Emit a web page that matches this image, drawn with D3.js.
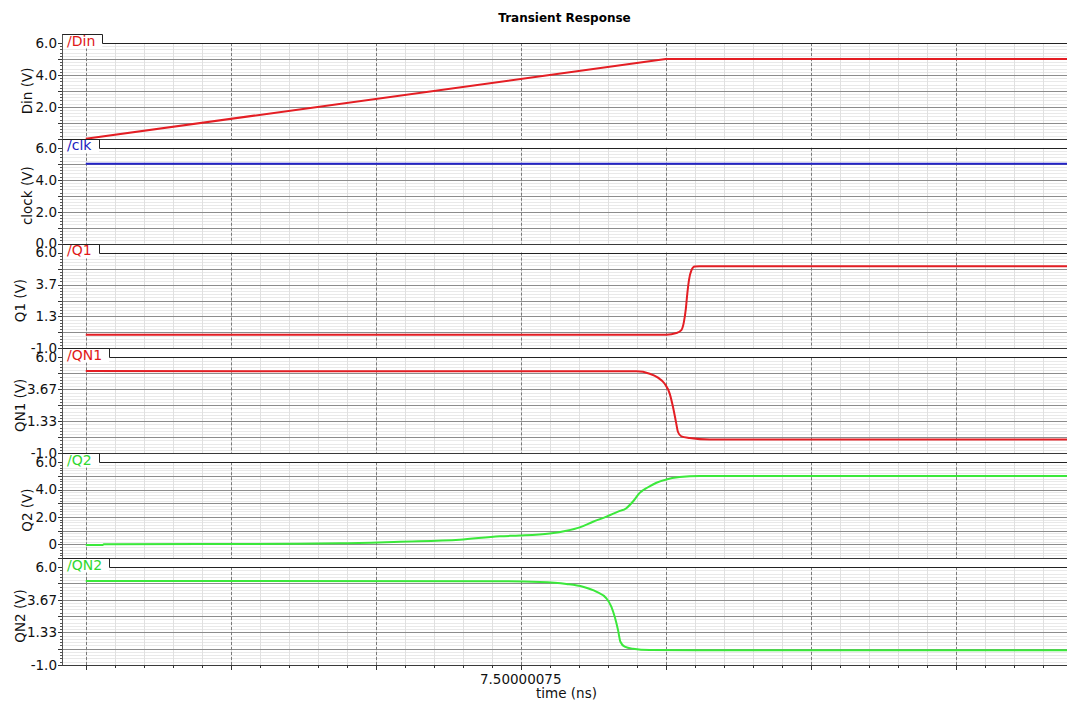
<!DOCTYPE html>
<html>
<head>
<meta charset="utf-8">
<script src="https://cdn.jsdelivr.net/npm/d3@7"></script>
<style>
  body { margin: 0; background: #fff; }
  svg { display: block; }
  text { font-family: "DejaVu Sans", Verdana, sans-serif; }
</style>
</head>
<body>
<svg id="chart" width="1067" height="704"></svg>
<script>
// ---- Signal data (time in ns, level in V) ----
const dinTime = [7.5, 7.500001, 7.500001692];
const dinVolt = [0.0, 5.0, 5.0];

const clkTime = [7.5, 7.500001692];
const clkVolt = [5.0, 5.0];

const q1Time = [7.5, 7.5000010012, 7.5000010184, 7.500001027, 7.500001031, 7.5000010345,
                7.5000010374, 7.5000010402, 7.5000010443, 7.50000105, 7.5000010586, 7.500001692];
const q1Volt = [0.0, 0.0, 0.12, 0.34, 0.85, 1.81, 3.06, 4.01, 4.70, 4.99, 5.0, 5.0];

const qn1Time = [7.5, 7.5000009495, 7.5000009724, 7.5000009867, 7.5000009983, 7.5000010069,
                 7.5000010126, 7.5000010172, 7.5000010212, 7.500001027, 7.5000010414,
                 7.5000010759, 7.500001692];
const qn1Volt = [5.0, 4.98, 4.81, 4.52, 4.08, 3.35, 2.37, 1.40, 0.55, 0.23, 0.11, 0.0, 0.0];

const q2Time = [7.5, 7.5000000293, 7.500000031, 7.500000369, 7.5000004379, 7.5000005414,
                7.5000006448, 7.5000007138, 7.5000007483, 7.5000008, 7.5000008288,
                7.5000008517, 7.5000008747, 7.5000008978, 7.5000009178, 7.5000009322,
                7.5000009436, 7.5000009552, 7.5000009695, 7.500000984, 7.5000010012,
                7.5000010241, 7.5000010586, 7.500001692];
const q2Volt = [-0.05, -0.05, 0.0, 0.04, 0.07, 0.19, 0.33, 0.59, 0.64, 0.79, 0.99, 1.24, 1.65,
                2.02, 2.39, 2.64, 3.13, 3.76, 4.17, 4.50, 4.74, 4.91, 5.0, 5.0];

const qn2Time = [7.5, 7.5000007138, 7.5000007828, 7.5000008288, 7.5000008572, 7.5000008803,
                 7.5000008978, 7.5000009064, 7.5000009121, 7.5000009178, 7.5000009219,
                 7.5000009293, 7.5000009436, 7.5000009724, 7.5000010586, 7.500001692];
const qn2Volt = [5.0, 4.98, 4.93, 4.79, 4.59, 4.24, 3.76, 3.16, 2.45, 1.50, 0.66, 0.31, 0.16,
                 0.07, 0.05, 0.05];

// ---- Panel definitions ----
const axisNames   = ["Din (V)", "clock (V)", "Q1 (V)", "QN1 (V)", "Q2 (V)", "QN2 (V)"];
const traceNames  = ["/Din", "/clk", "/Q1", "/QN1", "/Q2", "/QN2"];
const traceColors = ["#e41e24", "#2424c8", "#e41e24", "#e41e24", "#3be83b", "#3be83b"];
const labelColors = ["#e01818", "#2020c0", "#e01818", "#e01818", "#30d830", "#30d830"];
const yMin  = [0, 0, -1, -1, -1, -1];
const yMax  = [6, 6, 6, 6, 6, 6];
const yStep = [1, 1, 7 / 6, 7 / 6, 1, 7 / 6];
const yTickValues = [
  [6, 4, 2],
  [6, 4, 2, 0],
  [6, 11 / 3, 4 / 3, -1],
  [6, 11 / 3, 4 / 3, -1],
  [6, 4, 2, 0],
  [6, 11 / 3, 4 / 3, -1]
];
const yTickLabels = [
  ["6.0", "4.0", "2.0"],
  ["6.0", "4.0", "2.0", "0.0"],
  ["6.0", "3.7", "1.3", "-1.0"],
  ["6.0", "3.67", "1.33", "-1.0"],
  ["6.0", "4.0", "2.0", "0"],
  ["6.0", "3.67", "1.33", "-1.0"]
];
const seriesTime = [dinTime, clkTime, q1Time, qn1Time, q2Time, qn2Time];
const seriesVolt = [dinVolt, clkVolt, q1Volt, qn1Volt, q2Volt, qn2Volt];
const seriesSmooth = [false, false, true, true, true, true];

// ---- Time axis ----
const timeDomain = [7.499999959, 7.500001692];
const timeMajorStep = 0.25e-6;
const timeMinorStep = 0.05e-6;
const timeTickValues = [7.50000075];
const timeTickLabels = ["7.50000075"];

// ---- Layout ----
const W = 1067;
const left = 62, right = W;
const firstTab = 34, slot = 104.8, tabH = 9, lastBottom = 665;

const svg = d3.select("#chart");
const x = d3.scaleLinear().domain(timeDomain).range([left, right]);

svg.append("text")
  .attr("x", (left + right) / 2).attr("y", 22)
  .attr("text-anchor", "middle")
  .style("font-size", "12px").style("font-weight", "bold")
  .text("Transient Response");

const xMajor = d3.range(0, 40).map(i => 7.5 + i * timeMajorStep)
  .filter(t => t >= timeDomain[0] && t <= timeDomain[1]);
const xMinor = d3.range(-5, 40).map(i => 7.5 + i * timeMinorStep)
  .filter(t => t >= timeDomain[0] && t <= timeDomain[1]);

const defs = svg.append("defs");

axisNames.forEach((name, i) => {
  const tabTop = firstTab + i * slot;
  const top = tabTop + tabH;
  const bottom = i === axisNames.length - 1 ? lastBottom : firstTab + (i + 1) * slot;

  const y = d3.scaleLinear().domain([yMin[i], yMax[i]]).range([bottom, top]);

  // major and minor level values
  const nMaj = Math.round((yMax[i] - yMin[i]) / yStep[i]);
  const majors = d3.range(nMaj + 1).map(k => yMin[i] + k * yStep[i]);
  const minors = [];
  for (let k = 0; k < nMaj; k++) {
    for (let m = 1; m < 5; m++) minors.push(majors[k] + m * yStep[i] / 5);
  }

  const g = svg.append("g");

  // minor horizontal grid
  g.selectAll(".hmin").data(minors).join("line")
    .attr("x1", left).attr("x2", right)
    .attr("y1", d => Math.round(y(d)) + 0.5).attr("y2", d => Math.round(y(d)) + 0.5)
    .attr("stroke", "#e9e9e9").attr("stroke-width", 1);

  // minor vertical grid
  g.selectAll(".vmin").data(xMinor).join("line")
    .attr("x1", d => Math.round(x(d)) + 0.5).attr("x2", d => Math.round(x(d)) + 0.5)
    .attr("y1", top).attr("y2", bottom)
    .attr("stroke", "#e0e0e0").attr("stroke-width", 1);

  // major horizontal grid
  g.selectAll(".hmaj").data(majors.slice(1, -1)).join("line")
    .attr("x1", left).attr("x2", right)
    .attr("y1", d => Math.round(y(d)) + 0.5).attr("y2", d => Math.round(y(d)) + 0.5)
    .attr("stroke", "#8c8c8c").attr("stroke-width", 1);

  // major vertical grid (dashed)
  g.selectAll(".vmaj").data(xMajor).join("line")
    .attr("x1", d => Math.round(x(d)) + 0.5).attr("x2", d => Math.round(x(d)) + 0.5)
    .attr("y1", top).attr("y2", bottom)
    .attr("stroke", "#7a7a7a").attr("stroke-width", 1)
    .attr("stroke-dasharray", "3,2");

  // signal trace
  const clipId = "clip" + i;
  defs.append("clipPath").attr("id", clipId)
    .append("rect").attr("x", left).attr("y", top - 2)
    .attr("width", right - left).attr("height", bottom - top + 4);

  const pts = seriesTime[i].map((t, k) => [t, seriesVolt[i][k]]);
  const line = d3.line()
    .x(d => x(d[0])).y(d => y(d[1]))
    .curve(seriesSmooth[i] ? d3.curveMonotoneX : d3.curveLinear);
  g.append("path")
    .attr("d", line(pts))
    .attr("clip-path", `url(#${clipId})`)
    .attr("fill", "none")
    .attr("stroke", traceColors[i])
    .attr("stroke-width", 2)
    .attr("stroke-linejoin", "round");

  // bottom border
  g.append("line")
    .attr("x1", left).attr("x2", right)
    .attr("y1", Math.round(bottom) + 0.5).attr("y2", Math.round(bottom) + 0.5)
    .attr("stroke", "#3a3a3a").attr("stroke-width", 1.2);

  // trace name tab
  const label = g.append("text")
    .attr("x", left + 5).attr("y", tabTop + 11.5)
    .style("font-size", "14px")
    .attr("fill", labelColors[i])
    .text(traceNames[i]);
  const tabRight = left + Math.max(37, label.node().getComputedTextLength() + 12);
  g.insert("rect", "text")
    .attr("x", left + 0.5).attr("y", Math.round(tabTop) + 0.5)
    .attr("width", tabRight - left - 0.5).attr("height", tabH + 5)
    .attr("fill", "#fff");
  const tTop = Math.round(tabTop) + 0.5, pTop = Math.round(top) + 0.5, tR = Math.round(tabRight) + 0.5;
  g.append("path")
    .attr("d", `M${left},${tTop}H${tR}V${pTop}H${right}`)
    .attr("fill", "none").attr("stroke", "#222").attr("stroke-width", 1);

  // left axis line and ticks
  g.append("line")
    .attr("x1", left + 0.5).attr("x2", left + 0.5)
    .attr("y1", tTop).attr("y2", bottom)
    .attr("stroke", "#555").attr("stroke-width", 1);
  g.selectAll(".ytmin").data(minors).join("line")
    .attr("x1", left - 2).attr("x2", left)
    .attr("y1", d => Math.round(y(d)) + 0.5).attr("y2", d => Math.round(y(d)) + 0.5)
    .attr("stroke", "#555");
  g.selectAll(".ytmaj").data(majors).join("line")
    .attr("x1", left - 4).attr("x2", left)
    .attr("y1", d => Math.round(y(d)) + 0.5).attr("y2", d => Math.round(y(d)) + 0.5)
    .attr("stroke", "#333");

  g.selectAll(".ylab").data(yTickValues[i]).join("text")
    .attr("x", left - 5).attr("y", d => y(d))
    .attr("dy", "0.36em")
    .attr("text-anchor", "end")
    .style("font-size", "13.5px")
    .attr("fill", "#111")
    .text((d, k) => yTickLabels[i][k]);

  // axis title, pushed further left when the tick labels are wider
  const wideLabels = d3.max(yTickLabels[i], s => s.length) >= 4;
  svg.append("text")
    .attr("transform", `translate(${wideLabels ? 20.5 : 27.5},${(top + bottom) / 2}) rotate(-90)`)
    .attr("dy", "0.36em")
    .attr("text-anchor", "middle")
    .style("font-size", "13.5px")
    .attr("fill", "#111")
    .text(name);
});

// ---- bottom time axis ----
const ax = svg.append("g");
ax.selectAll(".xtmin").data(xMinor).join("line")
  .attr("x1", d => Math.round(x(d)) + 0.5).attr("x2", d => Math.round(x(d)) + 0.5)
  .attr("y1", lastBottom).attr("y2", lastBottom + 3)
  .attr("stroke", "#333");
ax.selectAll(".xtmaj").data(xMajor).join("line")
  .attr("x1", d => Math.round(x(d)) + 0.5).attr("x2", d => Math.round(x(d)) + 0.5)
  .attr("y1", lastBottom).attr("y2", lastBottom + 5)
  .attr("stroke", "#333");
ax.selectAll(".xlab").data(timeTickValues).join("text")
  .attr("x", d => x(d)).attr("y", 684)
  .attr("text-anchor", "middle")
  .style("font-size", "13.5px")
  .attr("fill", "#111")
  .text((d, k) => timeTickLabels[k]);
ax.append("text")
  .attr("x", (left + right) / 2 + 2).attr("y", 698)
  .attr("text-anchor", "middle")
  .style("font-size", "13.5px")
  .attr("fill", "#111")
  .text("time (ns)");
</script>
</body>
</html>
